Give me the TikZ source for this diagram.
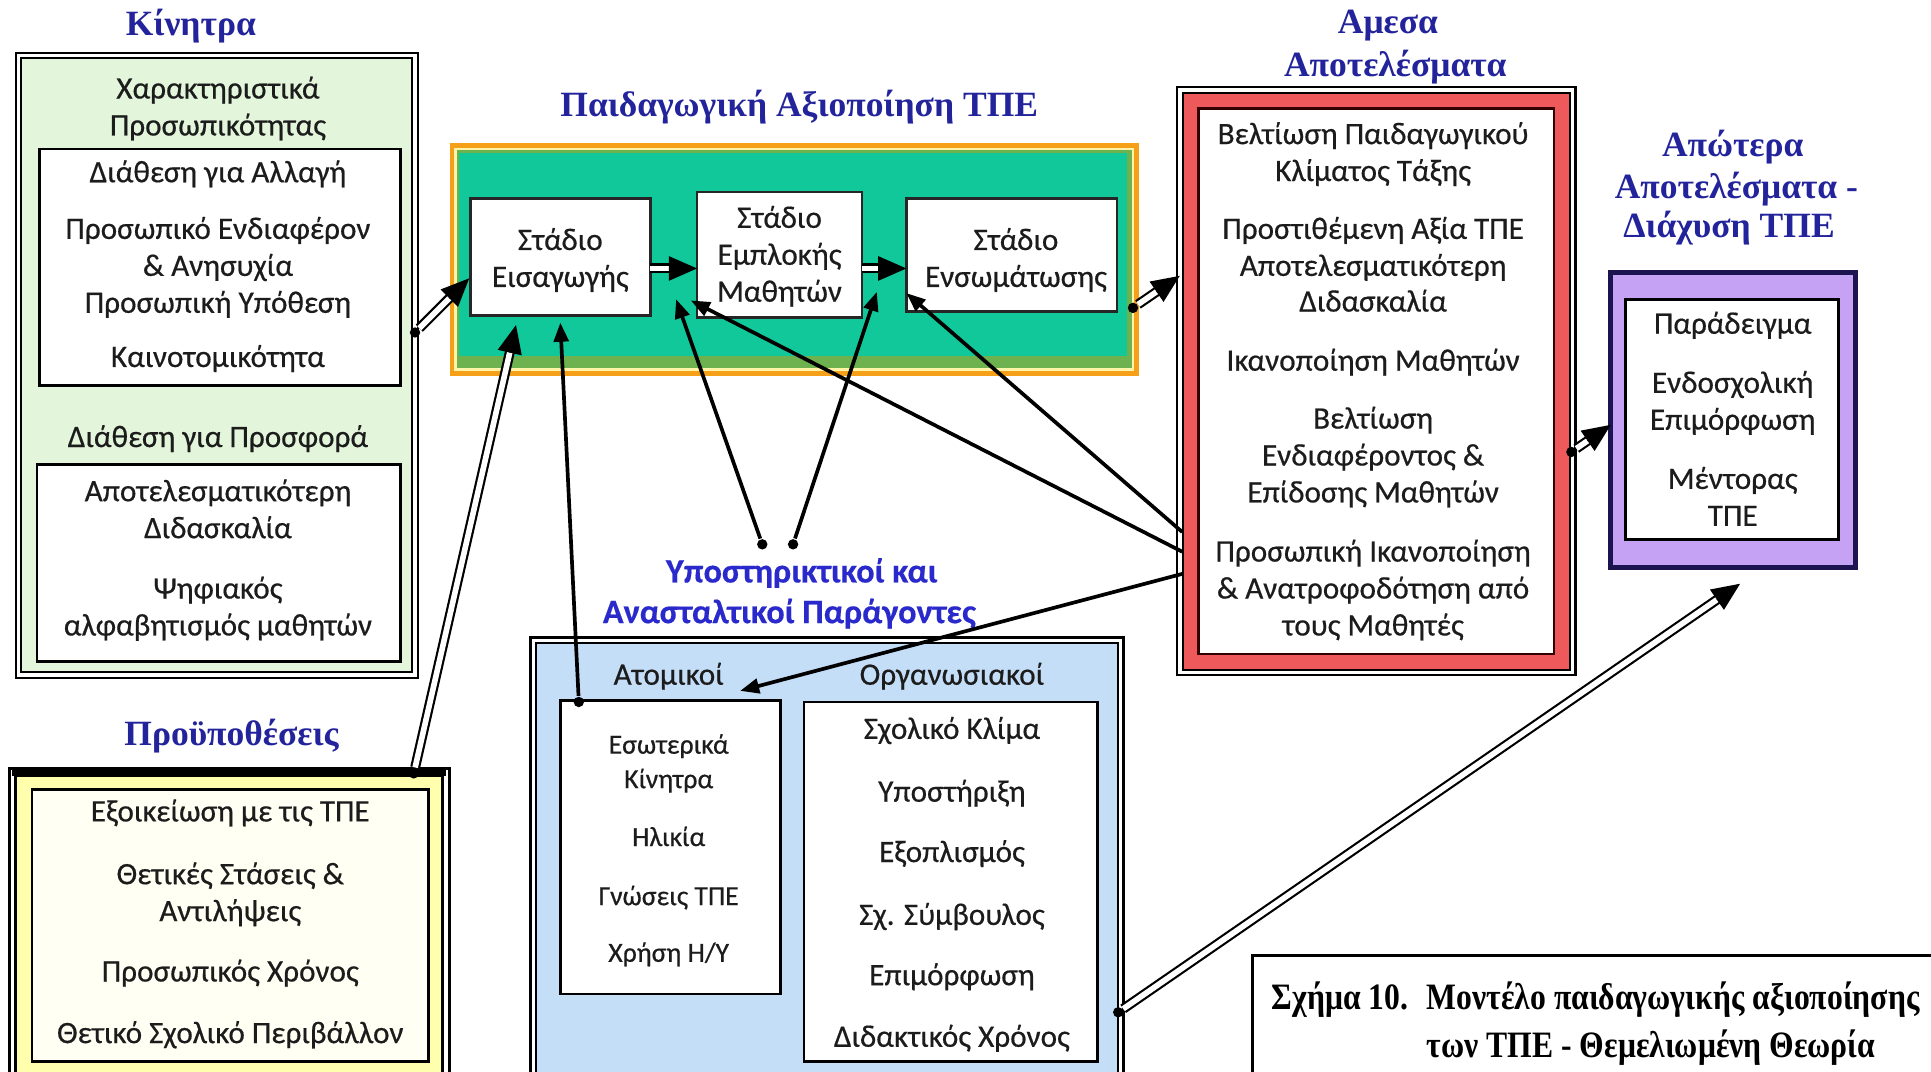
\documentclass[tikz,border=0pt]{standalone}
\usepackage{fontspec}
\newfontfamily\bodyfnt[FakeBold=0.45]{Carlito}
\newfontfamily\headfnt{Liberation Serif}
\newfontfamily\capfnt[FakeStretch=0.85]{Liberation Serif}
\usetikzlibrary{fit,arrows.meta,calc}

\definecolor{kingreen}{HTML}{E3F6DB}
\definecolor{pyellow}{HTML}{FFFFAE}
\definecolor{pcream}{HTML}{FFFFF3}
\definecolor{forange}{HTML}{F6A01A}
\definecolor{fyell}{HTML}{FFF4A8}
\definecolor{folive}{HTML}{6DB24E}
\definecolor{fturq}{HTML}{10C89A}
\definecolor{ared}{HTML}{EE5A5C}
\definecolor{plav}{HTML}{C6A2F4}
\definecolor{pnavy}{HTML}{1C1450}
\definecolor{fblue}{HTML}{C4DEF8}
\definecolor{headblue}{HTML}{23239C}
\definecolor{subblue}{HTML}{2A2ACC}
\definecolor{inkdark}{HTML}{1C1C1C}

\tikzset{
  bodytxt/.style={font=\bodyfnt\fontsize{7.2}{8.5}\selectfont, text=inkdark, inner sep=0, anchor=base},
  smalltxt/.style={bodytxt, font=\bodyfnt\fontsize{6.4}{7.6}\selectfont},
  headtxt/.style={font=\headfnt\bfseries\fontsize{8.2}{10}\selectfont, text=headblue, inner sep=0, anchor=base},
  subheadtxt/.style={font=\bodyfnt\bfseries\fontsize{7.9}{9}\selectfont, text=subblue, inner sep=0, anchor=base},
  captxt/.style={font=\capfnt\bfseries\fontsize{8.6}{10}\selectfont, text=black, inner sep=0, anchor=base west},
  boxframe/.style={rectangle, inner sep=0, outer sep=0},
  dblframe/.style={boxframe, draw=black, double=white, double distance=0.8pt, line width=0.5pt},
  whitebox/.style={boxframe, draw=black, line width=0.6pt, fill=white},
  stagebox/.style={boxframe, draw=black!85, line width=0.6pt, fill=white},
  startdot/.style={circle, fill=black, inner sep=0, minimum size=2.4pt},
  shaft/.style={draw=black, line width=0.5pt, double=white, double distance=1.3pt, shorten >=4.5pt},
  bighead/.style={draw=black, line width=0.4pt, -{Triangle[length=6.5pt,width=5.6pt]}},
  thinarrow/.style={draw=black, line width=0.85pt, -{Triangle[length=4.4pt,width=3.4pt]}}
}

% hollow double shaft ending in a solid head
\newcommand\dblarrow[2]{%
  \draw[shaft] (#1) -- (#2);
  \draw[bighead] ($(#2)!6.5pt!(#1)$) -- (#2);}

\begin{document}
\begin{tikzpicture}[x=0.01cm,y=-0.01cm]
\useasboundingbox (0,0) rectangle (1568,870);
\clip (0,0) rectangle (1568,870);

% ---------- motives ----------
\node[dblframe, fill=kingreen, fit={(15,45) (337,548)}] (kin) {};
\node[whitebox, fit={(32,121) (325,313)}] (kinA) {};
\node[whitebox, fit={(30,377) (325,537)}] (kinB) {};
\node[headtxt] (hKin) at (155,29) {Κίνητρα};
\foreach \t/\yy [count=\i] in {Χαρακτηριστικά/80, Προσωπικότητας/110, Διάθεση για Αλλαγή/148,
  Προσωπικό Ενδιαφέρον/194, \& Ανησυχία/224, Προσωπική Υπόθεση/254, Καινοτομικότητα/298,
  Διάθεση για Προσφορά/363, Αποτελεσματικότερη/407, Διδασκαλία/437, Ψηφιακός/486,
  αλφαβητισμός μαθητών/516}
  \node[bodytxt] (kt\i) at (177,\yy) {\t};

% ---------- prerequisites ----------
\node[dblframe, line width=0.7pt, fill=pyellow, fit={(10,627) (362,885)}] (pro) {};
\draw[line width=1.6pt] (pro.north west) -- (pro.north east);
\node[whitebox, fill=pcream, fit={(26,641) (348,862)}] (proIn) {};
\node[headtxt] (hPro) at (188,605) {Προϋποθέσεις};
\foreach \t/\yy [count=\i] in {Εξοικείωση με τις ΤΠΕ/667, Θετικές Στάσεις \&/718, Αντιλήψεις/748,
  Προσωπικός Χρόνος/797, Θετικό Σχολικό Περιβάλλον/847}
  \node[bodytxt] (pt\i) at (187,\yy) {\t};

% ---------- pedagogical use ----------
\node[boxframe, fill=forange, fit={(365,116) (925,305)}] (paid) {};
\fill[fyell] (369,120) rectangle (921,301);
\fill[folive] (371,122) rectangle (919,299);
\fill[fturq] (373,124) rectangle (915,289);
\node[headtxt] (hPaid) at (649,95) {Παιδαγωγική Αξιοποίηση ΤΠΕ};
\node[stagebox, fit={(382,161) (528,256)}] (stA) {};
\node[stagebox, fit={(566,156) (700,258)}] (stB) {};
\node[stagebox, fit={(736,161) (907,253)}] (stC) {};
\node[bodytxt] (sa1) at (455,203) {Στάδιο};
\node[bodytxt] (sa2) at (455,233) {Εισαγωγής};
\node[bodytxt] (sb1) at (633,185) {Στάδιο};
\node[bodytxt] (sb2) at (633,215) {Εμπλοκής};
\node[bodytxt] (sb3) at (633,245) {Μαθητών};
\node[bodytxt] (sc1) at (825,203) {Στάδιο};
\node[bodytxt] (sc2) at (825,233) {Ενσωμάτωσης};

% ---------- immediate outcomes ----------
\node[dblframe, fill=ared, fit={(958,73) (1277,546)}] (ame) {};
\node[whitebox, draw=black!80!red, fit={(973,88) (1262,531)}] (ameIn) {};
\node[headtxt] (hAme1) at (1127,27) {Αμεσα};
\node[headtxt] (hAme2) at (1133,62) {Αποτελέσματα};
\foreach \t/\yy [count=\i] in {Βελτίωση Παιδαγωγικού/117, Κλίματος Τάξης/147, Προστιθέμενη Αξία ΤΠΕ/194,
  Αποτελεσματικότερη/224, Διδασκαλία/253, Ικανοποίηση Μαθητών/301, Βελτίωση/348,
  Ενδιαφέροντος \&/378, Επίδοσης Μαθητών/408, Προσωπική Ικανοποίηση/456,
  \& Ανατροφοδότηση από/486, τους Μαθητές/516}
  \node[bodytxt] (at\i) at (1115,\yy) {\t};

% ---------- long-term outcomes ----------
\node[boxframe, draw=pnavy, line width=1.2pt, fill=plav, fit={(1308,221) (1507,461)}] (apo) {};
\node[whitebox, fit={(1320,243) (1493,438)}] (apoIn) {};
\node[headtxt] (hApo1) at (1407,127) {Απώτερα};
\node[headtxt] (hApo2) at (1410,161) {Αποτελέσματα -};
\node[headtxt] (hApo3) at (1404,193) {Διάχυση ΤΠΕ};
\foreach \t/\yy [count=\i] in {Παράδειγμα/271, Ενδοσχολική/319, Επιμόρφωση/349, Μέντορας/397, ΤΠΕ/427}
  \node[bodytxt] (lt\i) at (1407,\yy) {\t};

% ---------- supporting and inhibiting factors ----------
\node[dblframe, fill=fblue, fit={(433,520) (910,885)}] (fac) {};
\node[whitebox, fit={(455,569) (634,807)}] (facA) {};
\node[whitebox, fit={(653,570) (891,862)}] (facB) {};
\node[subheadtxt] (hFac1) at (651,473) {Υποστηρικτικοί και};
\node[subheadtxt] (hFac2) at (641,506) {Ανασταλτικοί Παράγοντες};
\node[bodytxt] (fA) at (543,556) {Ατομικοί};
\node[bodytxt] (fB) at (773,556) {Οργανωσιακοί};
\foreach \t/\yy [count=\i] in {Εσωτερικά/612, Κίνητρα/640, Ηλικία/687, Γνώσεις ΤΠΕ/735}
  \node[smalltxt] (fa\i) at (543,\yy) {\t};
\node[smalltxt] (fa5) at (543,781) {Χρήση Η/Υ};
\foreach \t/\yy [count=\i] in {Σχολικό Κλίμα/600, Υποστήριξη/651, Εξοπλισμός/700,
  Σχ. Σύμβουλος/751, Επιμόρφωση/800, Διδακτικός Χρόνος/850}
  \node[bodytxt] (fb\i) at (773,\yy) {\t};

% ---------- caption ----------
\node[boxframe, draw=black, line width=0.6pt, fill=white, fit={(1017,776) (1600,900)}] (capbox) {};
\node[captxt] (cap1) at (1032,820) {Σχήμα 10.\hspace{0.5em}Μοντέλο παιδαγωγικής αξιοποίησης};
\node[captxt] (cap2) at (1158,859) {των ΤΠΕ - Θεμελιωμένη Θεωρία};

% ---------- connectors ----------
\node[startdot] (d1) at (337,270) {};
\coordinate (e1) at (381,226);
\dblarrow{d1}{e1}

\node[startdot] (d2) at (336,628) {};
\coordinate (e2) at (419,264);
\dblarrow{d2}{e2}

\node[startdot] (d3) at (470,570) {};
\coordinate (e3) at (455,262);
\draw[thinarrow] (d3) -- (e3);

\coordinate (a4) at (stA.east |- 0,218);
\coordinate (b4) at (stB.west |- 0,218);
\dblarrow{a4}{b4}
\coordinate (a5) at (stB.east |- 0,218);
\coordinate (b5) at (stC.west |- 0,218);
\dblarrow{a5}{b5}

\node[startdot] (d6) at (920,250) {};
\coordinate (e6) at (ame.west |- 0,224);
\dblarrow{d6}{e6}

\node[startdot] (d7) at (619,442) {};
\coordinate (e7) at (549,243);
\draw[thinarrow] (d7) -- (e7);
\node[startdot] (d8) at (644,442) {};
\coordinate (e8) at (712,237);
\draw[thinarrow] (d8) -- (e8);

\coordinate (s9) at (960,432);
\coordinate (e9) at (stC.west |- 0,238);
\draw[thinarrow] (s9) -- (e9);
\coordinate (s10) at (960,448);
\coordinate (e10) at (561,244);
\draw[thinarrow] (s10) -- (e10);
\coordinate (s11) at (960,466);
\coordinate (e11) at (601,561);
\draw[thinarrow] (s11) -- (e11);

\node[startdot] (d12) at (1276,367) {};
\coordinate (e12) at (apo.west |- 0,345);
\dblarrow{d12}{e12}

\node[startdot] (d13) at (908,822) {};
\coordinate (e13) at (1413,474);
\dblarrow{d13}{e13}
\end{tikzpicture}
\end{document}
